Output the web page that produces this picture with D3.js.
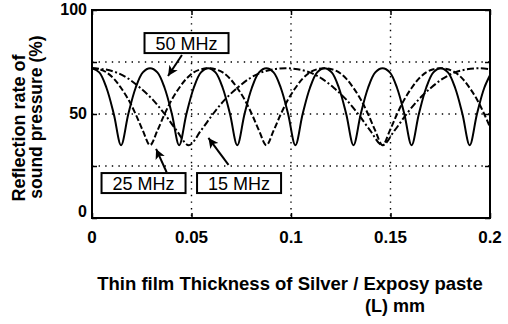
<!DOCTYPE html>
<html>
<head>
<meta charset="utf-8">
<script src="https://cdn.jsdelivr.net/npm/d3@7/dist/d3.min.js"></script>
<style>
  html, body { margin: 0; padding: 0; background: #fff; }
  svg { display: block; font-family: "Liberation Sans", Arial, sans-serif; }
</style>
</head>
<body>
<div id="plot"></div>
<script>
// Thickness samples (mm) shared by the 50 MHz and 25 MHz curves
const thicknessA = [0, 0.00365, 0.0073, 0.01095, 0.0146, 0.01825, 0.0219, 0.02555,
  0.0292, 0.03285, 0.0365, 0.04015, 0.0438, 0.04745, 0.0511, 0.05475,
  0.0584, 0.06205, 0.0657, 0.06935, 0.073, 0.07665, 0.0803, 0.08395,
  0.0876, 0.09125, 0.0949, 0.09855, 0.1022, 0.10585, 0.1095, 0.11315,
  0.1168, 0.12045, 0.1241, 0.12775, 0.1314, 0.13505, 0.1387, 0.14235,
  0.146, 0.14965, 0.1533, 0.15695, 0.1606, 0.16425, 0.1679, 0.17155,
  0.1752, 0.17885, 0.1825, 0.18615, 0.1898, 0.19345, 0.1971, 0.20075];

// Thickness samples (mm) for the 15 MHz curve
const thicknessB = [0, 0.00608, 0.01216, 0.01824, 0.02432, 0.0304, 0.03648, 0.04256,
  0.04864, 0.05472, 0.0608, 0.06688, 0.07296, 0.07904, 0.08512, 0.0912,
  0.09728, 0.10336, 0.10944, 0.11552, 0.1216, 0.12768, 0.13376, 0.13984,
  0.14592, 0.152, 0.15808, 0.16416, 0.17024, 0.17632, 0.1824, 0.18848,
  0.19456, 0.20064];

// Reflection rate of sound pressure (%)
const refl50MHz = [72, 70, 62.5, 50, 35, 50, 62.5, 70,
  72, 70, 62.5, 50, 35, 50, 62.5, 70,
  72, 70, 62.5, 50, 35, 50, 62.5, 70,
  72, 70, 62.5, 50, 35, 50, 62.5, 70,
  72, 70, 62.5, 50, 35, 50, 62.5, 70,
  72, 70, 62.5, 50, 35, 50, 62.5, 70,
  72, 70, 62.5, 50, 35, 50, 62.5, 70];

const refl25MHz = [72, 71.5, 70, 67, 62.5, 57, 50, 42, 35, 42, 50, 57, 62.5, 67, 70, 71.5,
  72, 71.5, 70, 67, 62.5, 57, 50, 42, 35, 42, 50, 57, 62.5, 67, 70, 71.5,
  72, 71.5, 70, 67, 62.5, 57, 50, 42, 35, 42, 50, 57, 62.5, 67, 70, 71.5,
  72, 71.5, 70, 67, 62.5, 57, 50, 42];

const refl15MHz = [72, 71.5, 70, 67, 62.5, 57, 50, 42, 35, 42, 50, 57, 62.5, 67, 70, 71.5,
  72, 71.5, 70, 67, 62.5, 57, 50, 42, 35, 42, 50, 57, 62.5, 67, 70, 71.5,
  72, 71.5];

const xTickValues = [0, 0.05, 0.1, 0.15, 0.2];
const xTickLabels = ["0", "0.05", "0.1", "0.15", "0.2"];
const yTickValues = [0, 50, 100];
const yTickLabels = ["0", "50", "100"];
const gridX = [0.05, 0.1, 0.15];
const gridY = [25, 50, 75];

// Callout labels: box centre and arrow tail/head in data units
const calloutLabels = ["50 MHz", "25 MHz", "15 MHz"];
const calloutBox = [[0.0475, 84.1], [0.0259, 16.8], [0.0739, 16.8]];
const calloutTail = [[0.0452, 78.4], [0.0375, 22], [0.0686, 25.5]];
const calloutHead = [[0.0382, 68.3], [0.0322, 33.2], [0.0585, 38.5]];

const width = 508, height = 324;
const margin = { top: 10, right: 18, bottom: 106, left: 92 };
const innerWidth = width - margin.left - margin.right;
const innerHeight = height - margin.top - margin.bottom;

const svg = d3.select("#plot").append("svg")
    .attr("width", width)
    .attr("height", height);

const defs = svg.append("defs");
defs.append("clipPath").attr("id", "clip")
    .append("rect").attr("width", innerWidth).attr("height", innerHeight);

defs.append("marker")
    .attr("id", "arrow")
    .attr("viewBox", "0 0 10 10")
    .attr("refX", 10).attr("refY", 5)
    .attr("markerUnits", "userSpaceOnUse")
    .attr("markerWidth", 12).attr("markerHeight", 10)
    .attr("orient", "auto")
    .append("path")
    .attr("d", "M0,0 L10,5 L0,10 L2.5,5 Z")
    .attr("fill", "#000");

const g = svg.append("g").attr("transform", `translate(${margin.left},${margin.top})`);

const x = d3.scaleLinear().domain([0, 0.2]).range([0, innerWidth]);
const y = d3.scaleLinear().domain([0, 100]).range([innerHeight, 0]);

// Dotted grid
g.append("g").selectAll("line").data(gridY).join("line")
    .attr("x1", 0).attr("x2", innerWidth)
    .attr("y1", d => y(d)).attr("y2", d => y(d))
    .attr("stroke", "#000").attr("stroke-width", 1.4)
    .attr("stroke-dasharray", "1.4,5.2");
g.append("g").selectAll("line").data(gridX).join("line")
    .attr("x1", d => x(d)).attr("x2", d => x(d))
    .attr("y1", 0).attr("y2", innerHeight)
    .attr("stroke", "#000").attr("stroke-width", 1.4)
    .attr("stroke-dasharray", "1.4,5.2");

// Curves
const series = [
    { name: "50 MHz", thickness: thicknessA, values: refl50MHz, dash: null },
    { name: "25 MHz", thickness: thicknessA, values: refl25MHz, dash: "6,2.5" },
    { name: "15 MHz", thickness: thicknessB, values: refl15MHz, dash: "7,2.5,2,2.5" }
];

const line = d3.line()
    .x(d => x(d[0]))
    .y(d => y(d[1]))
    .curve(d3.curveCatmullRom.alpha(0.5));

g.append("g").attr("clip-path", "url(#clip)")
    .selectAll("path").data(series).join("path")
    .attr("d", s => line(s.values.map((v, i) => [s.thickness[i], v])))
    .attr("fill", "none")
    .attr("stroke", "#000")
    .attr("stroke-width", 2)
    .attr("stroke-dasharray", s => s.dash);

// Inward ticks on all four sides
const tickGroups = [
    d3.axisLeft(y).tickValues([0, 25, 50, 75, 100]).tickSize(-5).tickFormat(""),
    d3.axisRight(y).tickValues([0, 25, 50, 75, 100]).tickSize(-5).tickFormat(""),
    d3.axisBottom(x).tickValues(xTickValues).tickSize(-5).tickFormat(""),
    d3.axisTop(x).tickValues(xTickValues).tickSize(-5).tickFormat("")
];
const tickPos = [[0, 0], [innerWidth, 0], [0, innerHeight], [0, 0]];
tickGroups.forEach((ax, i) => {
    const t = g.append("g").attr("transform", `translate(${tickPos[i][0]},${tickPos[i][1]})`).call(ax);
    t.select(".domain").remove();
    t.selectAll("text").remove();
    t.selectAll("line").attr("stroke-width", 1.5);
});

// Frame
g.append("rect")
    .attr("width", innerWidth).attr("height", innerHeight)
    .attr("fill", "none").attr("stroke", "#000").attr("stroke-width", 2);

// Tick labels
g.append("g").selectAll("text").data(yTickValues).join("text")
    .attr("x", -5)
    .attr("y", d => Math.min(y(d) + 5, innerHeight - 1))
    .attr("text-anchor", "end")
    .attr("font-size", 16).attr("font-weight", "bold")
    .text((d, i) => yTickLabels[i]);

g.append("g").selectAll("text").data(xTickValues).join("text")
    .attr("x", d => x(d))
    .attr("y", innerHeight + 25)
    .attr("text-anchor", "middle")
    .attr("font-size", 17).attr("font-weight", "bold")
    .text((d, i) => xTickLabels[i]);

// Callout boxes with arrows
calloutLabels.forEach((label, i) => {
    const cx = x(calloutBox[i][0]), cy = y(calloutBox[i][1]);
    const box = g.append("g");
    const rect = box.append("rect");
    const txt = box.append("text")
        .attr("x", cx).attr("y", cy + 6.5)
        .attr("text-anchor", "middle")
        .attr("font-size", 18)
        .text(label);
    const bb = txt.node().getBBox();
    rect.attr("x", cx - bb.width / 2 - 11).attr("y", cy - 10)
        .attr("width", bb.width + 22).attr("height", 20)
        .attr("fill", "#fff").attr("stroke", "#000").attr("stroke-width", 2);
    g.append("line")
        .attr("x1", x(calloutTail[i][0])).attr("y1", y(calloutTail[i][1]))
        .attr("x2", x(calloutHead[i][0])).attr("y2", y(calloutHead[i][1]))
        .attr("stroke", "#000").attr("stroke-width", 2)
        .attr("marker-end", "url(#arrow)");
});

// Axis titles
svg.append("text")
    .attr("transform", "translate(25,128) rotate(-90)")
    .attr("text-anchor", "middle")
    .attr("font-size", 18).attr("font-weight", "bold")
    .text("Reflection rate of");
svg.append("text")
    .attr("transform", "translate(42,117) rotate(-90)")
    .attr("text-anchor", "middle")
    .attr("font-size", 17.5).attr("font-weight", "bold")
    .text("sound pressure (%)");

svg.append("text")
    .attr("x", 290).attr("y", 290)
    .attr("text-anchor", "middle")
    .attr("font-size", 18.5).attr("font-weight", "bold")
    .text("Thin film Thickness of Silver / Exposy paste");
svg.append("text")
    .attr("x", 395).attr("y", 312)
    .attr("text-anchor", "middle")
    .attr("font-size", 18).attr("font-weight", "bold")
    .text("(L) mm");
</script>
</body>
</html>
